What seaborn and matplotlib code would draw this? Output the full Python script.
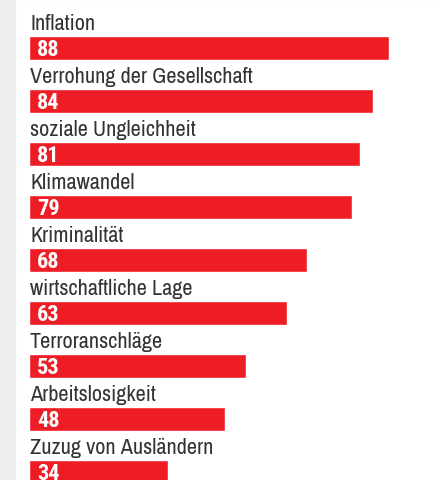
import pandas as pd
import matplotlib.pyplot as plt
import seaborn as sns

# Sorgen der Deutschen, Angaben in Prozent
themen = ['Inflation', 'Verrohung der Gesellschaft', 'soziale Ungleichheit',
          'Klimawandel', 'Kriminalität', 'wirtschaftliche Lage',
          'Terroranschläge', 'Arbeitslosigkeit', 'Zuzug von Ausländern']
werte = [88, 84, 81, 79, 68, 63, 53, 48, 34]

df = pd.DataFrame({'thema': themen, 'wert': werte})

rot = '#ee1c25'
schrift = ['Archivo Narrow', 'DejaVu Sans']
schrift_fett = ['Roboto Condensed', 'Archivo Narrow', 'DejaVu Sans']

sns.set_style('white')
plt.rcParams['font.family'] = schrift

fig = plt.figure(figsize=(4.41, 4.81), dpi=100)
ax = fig.add_axes([0, 0, 1, 1])

sns.barplot(data=df, y='thema', x='wert', orient='h', color=rot,
            saturation=1, width=0.453, ax=ax)

ax.set_xlim(-7.09, 100.7)
ax.set_ylim(8.151, -0.925)

# grauer Rand links und Linie oben
ax.axvspan(-7.09, -3.42, color='#eff0ee', zorder=0)
ax.plot([-3.42, 100.7], [-0.92, -0.92], color='#c4c4c4', lw=1.5, clip_on=False)

for i, (t, w) in enumerate(zip(themen, werte)):
    ax.text(0.25, i - 0.358, t, color='#333333', fontsize=16,
            va='baseline', ha='left', family=schrift)
    ax.text(1.9, i + 0.02, str(w), color='white', fontsize=16,
            fontweight='bold', va='center', ha='left', family=schrift_fett)

ax.set_axis_off()
fig.savefig('out.png', dpi=100, facecolor='white')
